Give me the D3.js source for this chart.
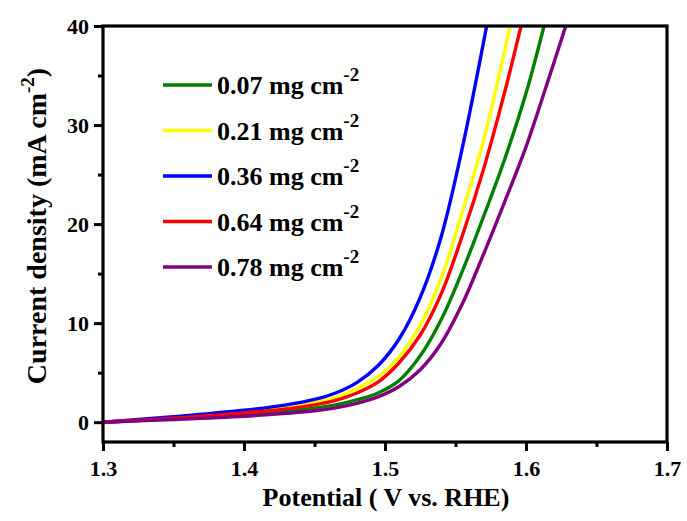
<!DOCTYPE html>
<html>
<head>
<meta charset="utf-8">
<script src="https://cdn.jsdelivr.net/npm/d3@7"></script>
<style>
  html, body { margin: 0; padding: 0; background: #fff; }
  svg text { font-family: "Liberation Serif", "Times New Roman", serif; font-weight: bold; fill: #000; }
</style>
</head>
<body>
<svg id="chart" width="687" height="521"></svg>
<script>
// ---- data ----
const seriesLabels = ["0.07", "0.21", "0.36", "0.64", "0.78"];
const seriesColors = ["#008000", "#ffff00", "#0000ff", "#ff0000", "#800080"];

const potential_007 = [1.30, 1.35, 1.40, 1.43, 1.45, 1.465, 1.48, 1.495, 1.51, 1.525, 1.54, 1.555, 1.57, 1.585, 1.60, 1.6128];
const current_007   = [0.00, 0.35, 0.80, 1.12, 1.42, 1.75, 2.25, 2.95, 4.20, 6.70, 10.4, 15.3, 20.8, 26.6, 33.2, 40.0];

const potential_021 = [1.30, 1.35, 1.40, 1.43, 1.45, 1.465, 1.48, 1.495, 1.51, 1.525, 1.54, 1.555, 1.57, 1.5887];
const current_021   = [0.00, 0.45, 1.05, 1.50, 1.95, 2.50, 3.40, 4.60, 6.60, 9.80, 14.6, 21.3, 28.5, 40.0];

const potential_036 = [1.30, 1.35, 1.40, 1.43, 1.45, 1.465, 1.48, 1.495, 1.51, 1.525, 1.54, 1.555, 1.5721];
const current_036   = [0.00, 0.55, 1.20, 1.75, 2.30, 2.95, 4.00, 5.70, 8.40, 12.6, 18.8, 27.8, 40.0];

const potential_064 = [1.30, 1.35, 1.40, 1.43, 1.45, 1.465, 1.48, 1.495, 1.51, 1.525, 1.54, 1.555, 1.57, 1.585, 1.5965];
const current_064   = [0.00, 0.40, 0.94, 1.35, 1.75, 2.20, 2.95, 4.05, 6.00, 8.80, 13.0, 18.9, 25.6, 33.4, 40.0];

const potential_078 = [1.30, 1.35, 1.40, 1.43, 1.45, 1.465, 1.48, 1.495, 1.51, 1.525, 1.54, 1.555, 1.57, 1.585, 1.60, 1.615, 1.6282];
const current_078   = [0.00, 0.27, 0.60, 0.90, 1.15, 1.45, 1.90, 2.55, 3.60, 5.30, 8.00, 12.0, 17.0, 22.3, 27.8, 34.2, 40.0];

const xTicks = [1.3, 1.4, 1.5, 1.6, 1.7];
const xMinor = [1.35, 1.45, 1.55, 1.65];
const yTicks = [0, 10, 20, 30, 40];
const yMinor = [5, 15, 25, 35];

const xDomain = [1.3, 1.7];
const yDomain = [-2, 40];

// ---- layout ----
const svg = d3.select("#chart");
const L = 103, R = 667, T = 26, B = 442;
const x = d3.scaleLinear().domain(xDomain).range([L, R]);
const y = d3.scaleLinear().domain(yDomain).range([B, T]);

const series = [
  d3.zip(potential_007, current_007),
  d3.zip(potential_021, current_021),
  d3.zip(potential_036, current_036),
  d3.zip(potential_064, current_064),
  d3.zip(potential_078, current_078)
];

svg.append("clipPath").attr("id", "clip")
  .append("rect").attr("x", L).attr("y", T).attr("width", R - L).attr("height", B - T);

const line = d3.line().x(d => x(d[0])).y(d => y(d[1])).curve(d3.curveCatmullRom.alpha(0.5));

const g = svg.append("g").attr("clip-path", "url(#clip)");
series.forEach((s, i) => {
  g.append("path").datum(s)
    .attr("d", line)
    .attr("fill", "none")
    .attr("stroke", seriesColors[i])
    .attr("stroke-width", 3.4)
    .attr("stroke-linejoin", "round")
    .attr("stroke-linecap", "round");
});

// ---- axes ----
const xAxis = svg.append("g").attr("transform", `translate(0,${B})`)
  .call(d3.axisBottom(x).tickValues(xTicks).tickFormat(d3.format(".1f")).tickSize(9).tickPadding(5));
const xAxisMinor = svg.append("g").attr("transform", `translate(0,${B})`)
  .call(d3.axisBottom(x).tickValues(xMinor).tickFormat("").tickSize(5));
const yAxis = svg.append("g").attr("transform", `translate(${L},0)`)
  .call(d3.axisLeft(y).tickValues(yTicks).tickFormat(d3.format("d")).tickSize(9).tickPadding(5));
const yAxisMinor = svg.append("g").attr("transform", `translate(${L},0)`)
  .call(d3.axisLeft(y).tickValues(yMinor).tickFormat("").tickSize(5));

[xAxis, xAxisMinor, yAxis, yAxisMinor].forEach(a => {
  a.select(".domain").remove();
  a.selectAll(".tick line").attr("stroke", "#000").attr("stroke-width", 3);
  a.selectAll("text").style("font-size", "22px");
});
xAxis.selectAll("text").attr("dy", "0.9em");
yAxis.selectAll("text").attr("dy", "0.34em");

// frame
svg.append("rect")
  .attr("x", L).attr("y", T).attr("width", R - L).attr("height", B - T)
  .attr("fill", "none").attr("stroke", "#000").attr("stroke-width", 3.2);

// axis titles
svg.append("text")
  .attr("x", (L + R) / 2 + 1).attr("y", 506)
  .attr("text-anchor", "middle")
  .style("font-size", "26px")
  .text("Potential ( V vs. RHE)");

const yt = svg.append("text")
  .attr("transform", `translate(46,226) rotate(-90)`)
  .attr("text-anchor", "middle")
  .style("font-size", "28px");
yt.append("tspan").text("Current density (mA cm");
yt.append("tspan").attr("dy", -12).style("font-size", "19px").text("-2");
yt.append("tspan").attr("dy", 12).text(")");

// legend
const legendY0 = 85, legendStep = 45.5;
seriesLabels.forEach((lab, i) => {
  const ly = legendY0 + i * legendStep;
  svg.append("line")
    .attr("x1", 163).attr("x2", 212).attr("y1", ly).attr("y2", ly)
    .attr("stroke", seriesColors[i]).attr("stroke-width", 3.4);
  const t = svg.append("text").attr("x", 217).attr("y", ly + 9).style("font-size", "26px");
  t.append("tspan").text(`${lab} mg cm`);
  t.append("tspan").attr("dy", -13).style("font-size", "19px").text("-2");
});
</script>
</body>
</html>
